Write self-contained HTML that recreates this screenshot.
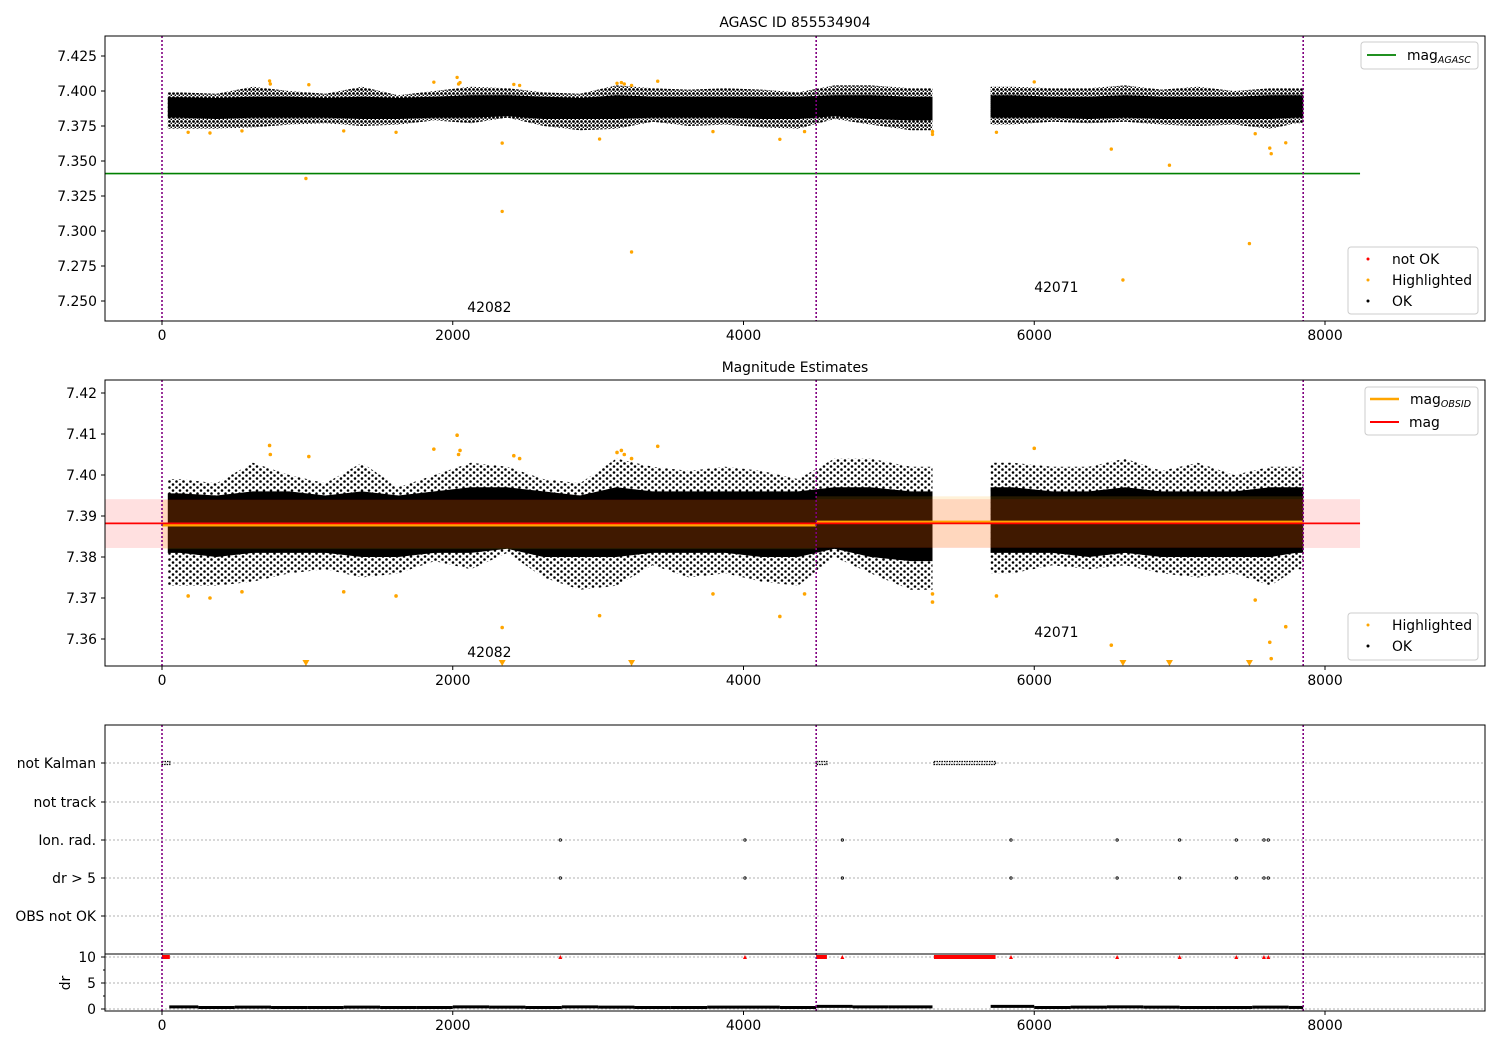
<!DOCTYPE html>
<html><head><meta charset="utf-8"><style>
body{margin:0;background:#fff}
svg text{font-family:"DejaVu Sans","Liberation Sans",sans-serif;font-size:13.9px;fill:#000}
</style></head><body>
<svg id="c" width="1500" height="1050" xmlns="http://www.w3.org/2000/svg">
<defs>
<pattern id="dots" width="7" height="6" patternUnits="userSpaceOnUse"><circle cx="1.5" cy="1.5" r="1.3" fill="#000"/><circle cx="5" cy="4.5" r="1.3" fill="#000"/></pattern>
<pattern id="dots1" width="4" height="4" patternUnits="userSpaceOnUse"><circle cx="1.5" cy="1.5" r="1.4" fill="#000"/><circle cx="3.5" cy="3.5" r="1.0" fill="#000"/></pattern>
<clipPath id="cp1"><rect x="105" y="36" width="1380" height="285"/></clipPath>
<clipPath id="cp2"><rect x="105" y="380" width="1380" height="286"/></clipPath>
</defs>
</svg>
<script>
// ---- data ----
const binStart=[0,250,500,750,1000,1250,1500,1750,2000,2250,2500,2750,3000,3250,3500,3750,4000,4250,4500,4750,5000,5700,6000,6250,6500,6750,7000,7250,7500,7750];
const binEnd  =[250,500,750,1000,1250,1500,1750,2000,2250,2500,2750,3000,3250,3500,3750,4000,4250,4500,4750,5000,5300,6000,6250,6500,6750,7000,7250,7500,7750,7850];
const magHi=[7.399,7.398,7.403,7.400,7.398,7.403,7.397,7.400,7.403,7.402,7.399,7.398,7.404,7.402,7.401,7.402,7.401,7.399,7.404,7.404,7.402,7.403,7.402,7.402,7.404,7.401,7.403,7.400,7.402,7.402];
const magLo=[7.373,7.373,7.374,7.376,7.377,7.375,7.376,7.379,7.377,7.381,7.375,7.372,7.373,7.378,7.375,7.376,7.374,7.373,7.380,7.376,7.372,7.376,7.378,7.377,7.378,7.376,7.375,7.376,7.373,7.377];
const coreHi=[7.3955,7.395,7.396,7.396,7.395,7.396,7.395,7.396,7.397,7.397,7.396,7.395,7.397,7.396,7.396,7.396,7.396,7.396,7.397,7.397,7.396,7.397,7.396,7.396,7.397,7.396,7.396,7.396,7.397,7.397];
const coreLo=[7.381,7.380,7.381,7.381,7.381,7.380,7.380,7.381,7.381,7.382,7.380,7.380,7.380,7.381,7.381,7.381,7.380,7.380,7.382,7.380,7.379,7.381,7.381,7.380,7.381,7.380,7.380,7.380,7.380,7.381];
const hlX=[180,330,550,740,745,990,1010,1250,1610,1870,2030,2040,2050,2340,2340,2420,2460,3010,3130,3160,3180,3230,3230,3410,3790,4250,4420,5300,5300,5740,6000,6530,6610,6930,7480,7520,7620,7630,7730];
const hlMag=[7.3705,7.370,7.3715,7.4072,7.405,7.3375,7.4045,7.3715,7.3705,7.4063,7.4097,7.405,7.406,7.3628,7.314,7.4047,7.404,7.3657,7.4055,7.406,7.405,7.285,7.404,7.407,7.371,7.3655,7.371,7.371,7.369,7.3705,7.4065,7.3585,7.265,7.347,7.291,7.3695,7.3592,7.3552,7.363];
const magAgasc=7.341;
const magMean=7.3882, magErrLo=7.3822, magErrHi=7.3941;
const obsStart=[0,4500], obsEnd=[4500,7850], obsMag=[7.3878,7.3885], obsLo=[7.3819,7.3823], obsHi=[7.3939,7.3948];
const obsLabels=["42082","42071"], obsLabelX=[2100,6000];
const notKalStart=[0,4500,5310], notKalEnd=[40,4560,5720];
const flagX=[2740,4010,4680,5840,6570,7000,7390,7580,7610];
const drValue=[0.4,0.3,0.35,0.3,0.3,0.35,0.3,0.3,0.4,0.35,0.3,0.4,0.35,0.3,0.3,0.35,0.35,0.3,0.5,0.4,0.4,0.5,0.3,0.35,0.4,0.35,0.3,0.3,0.35,0.3];
const xTicks=[0,2000,4000,6000,8000];
const y1Ticks=[7.250,7.275,7.300,7.325,7.350,7.375,7.400,7.425];
const y2Ticks=[7.36,7.37,7.38,7.39,7.40,7.41,7.42];
const catLabels=["not Kalman","not track","Ion. rad.","dr > 5","OBS not OK"];
const drTicks=[0,5,10];

// ---- scales ----
const X=v=>162+v*0.145375;
const Y1=v=>91-(v-7.4)*1400;
const Y2=v=>516-(v-7.39)*4100;
const catY=[763,802,840,878,916];
const YD=v=>1009-v*5.2;
const XMAX=8241;

const svg=document.getElementById('c');
const NS='http://www.w3.org/2000/svg';
function el(tag,attrs,parent){const e=document.createElementNS(NS,tag);for(const k in attrs)e.setAttribute(k,attrs[k]);(parent||svg).appendChild(e);return e;}
function txt(s,x,y,anchor,parent,size){const t=el('text',{x:x,y:y,'text-anchor':anchor||'start'},parent);if(size)t.setAttribute('font-size',size);t.textContent=s;return t;}

function runs(){const r=[];let cur=[];for(let i=0;i<binStart.length;i++){if(cur.length&&binStart[i]!==binEnd[cur[cur.length-1]]){r.push(cur);cur=[];}cur.push(i);}if(cur.length)r.push(cur);return r;}
function envPath(Y,hi,lo,idx){let top=[],bot=[];
 const first=idx[0],last=idx[idx.length-1];
 const x0=Math.max(binStart[first],40), x1=binEnd[last];
 top.push([X(x0),Y(hi[first])]);bot.push([X(x0),Y(lo[first])]);
 idx.forEach(i=>{const m=(binStart[i]+binEnd[i])/2;top.push([X(m),Y(hi[i])]);bot.push([X(m),Y(lo[i])]);});
 top.push([X(x1),Y(hi[last])]);bot.push([X(x1),Y(lo[last])]);
 return 'M'+top.concat(bot.reverse()).map(p=>p[0].toFixed(1)+','+p[1].toFixed(1)).join('L')+'Z';}

function axesFrame(y0,h,name){el('rect',{x:105,y:y0,width:1380,height:h,fill:'none',stroke:'#000','stroke-width':1});}
function xAxis(yb){const g=el('g',{});
 xTicks.forEach(t=>{el('line',{x1:X(t),x2:X(t),y1:yb,y2:yb+4,stroke:'#000'},g);txt(String(t),X(t),yb+19,'middle',g);});}
function vlines(y0,y1){[0,4500,7850].forEach(v=>{const l=el('line',{x1:X(v),x2:X(v),y1:y0,y2:y1,stroke:'#800080','stroke-width':1.6,'stroke-dasharray':'2,2'});});}

// ===== Panel 1 =====
{
const g=el('g',{'clip-path':'url(#cp1)'});
runs().forEach(r=>{const p=el('path',{d:envPath(Y1,magHi,magLo,r),fill:'url(#dots1)'},g);
 const c=el('path',{d:envPath(Y1,coreHi,coreLo,r),fill:'#000'},g);});
hlX.forEach((x,i)=>{const c=el('circle',{cx:X(x),cy:Y1(hlMag[i]),r:1.7,fill:'orange'},g);});
const gl=el('line',{x1:105,x2:X(XMAX),y1:Y1(magAgasc),y2:Y1(magAgasc),stroke:'green','stroke-width':1.6},g);
vlines(36,321);
obsLabels.forEach((s,i)=>{const t=txt(s,X(obsLabelX[i]),i==0?312:292,'start');});
axesFrame(36,285,'agasc-axes');
const ga=el('g',{});
y1Ticks.forEach(t=>{el('line',{x1:101,x2:105,y1:Y1(t),y2:Y1(t),stroke:'#000'},ga);txt(t.toFixed(3),97,Y1(t)+5,'end',ga);});
xAxis(321);
const tt=txt('AGASC ID 855534904',795,27,'middle');tt.setAttribute('font-size','16.7');
const lg=el('g',{});
el('rect',{x:1361,y:42,width:117,height:27,rx:3,fill:'#fff',stroke:'#ccc'},lg);
el('line',{x1:1367,x2:1396,y1:55,y2:55,stroke:'green','stroke-width':1.8},lg);
const t1=txt('mag',1407,60,'start',lg);const s1=el('tspan',{'font-size':'9.5','font-style':'italic',dy:'3'},t1);s1.textContent='AGASC';
const lb=el('g',{});
el('rect',{x:1348,y:247,width:130,height:67,rx:3,fill:'#fff',stroke:'#ccc'},lb);
[['red','not OK',259],['orange','Highlighted',280],['#000','OK',301]].forEach(a=>{el('circle',{cx:1368,cy:a[2],r:1.5,fill:a[0]},lb);txt(a[1],1392,a[2]+5,'start',lb);});
}

// ===== Panel 2 =====
{
const g=el('g',{'clip-path':'url(#cp2)'});
runs().forEach(r=>{const p=el('path',{d:envPath(Y2,magHi,magLo,r),fill:'url(#dots)'},g);
 const c=el('path',{d:envPath(Y2,coreHi,coreLo,r),fill:'#000'},g);});
const band=el('rect',{x:105,y:Y2(magErrHi),width:X(XMAX)-105,height:Y2(magErrLo)-Y2(magErrHi),fill:'red','fill-opacity':0.12},g);
obsStart.forEach((s,i)=>{const b=el('rect',{x:X(s),y:Y2(obsHi[i]),width:X(obsEnd[i])-X(s),height:Y2(obsLo[i])-Y2(obsHi[i]),fill:'orange','fill-opacity':0.15},g);
 const l=el('line',{x1:X(s),x2:X(obsEnd[i]),y1:Y2(obsMag[i]),y2:Y2(obsMag[i]),stroke:'orange','stroke-width':3},g);});
const ml=el('line',{x1:105,x2:X(XMAX),y1:Y2(magMean),y2:Y2(magMean),stroke:'red','stroke-width':1.8},g);
const ymin=7.3534;
hlX.forEach((x,i)=>{if(hlMag[i]>=ymin){const c=el('circle',{cx:X(x),cy:Y2(hlMag[i]),r:1.8,fill:'orange'},g);}
 else{const cx=X(x),cy=663;const t=el('path',{d:`M${cx-3.5},${cy-3}L${cx+3.5},${cy-3}L${cx},${cy+3}Z`,fill:'orange'},g);}});
vlines(380,666);
obsLabels.forEach((s,i)=>{const t=txt(s,X(obsLabelX[i]),i==0?657:637,'start');});
axesFrame(380,286,'estimates-axes');
const ga=el('g',{});
y2Ticks.forEach(t=>{el('line',{x1:101,x2:105,y1:Y2(t),y2:Y2(t),stroke:'#000'},ga);txt(t.toFixed(2),97,Y2(t)+5,'end',ga);});
xAxis(666);
const tt=txt('Magnitude Estimates',795,372,'middle');tt.setAttribute('font-size','16.7');
const lg=el('g',{});
el('rect',{x:1365,y:387,width:113,height:48,rx:3,fill:'#fff',stroke:'#ccc'},lg);
el('line',{x1:1370,x2:1399,y1:399,y2:399,stroke:'orange','stroke-width':2.5},lg);
const t1=txt('mag',1410,404,'start',lg);const s1=el('tspan',{'font-size':'9.5','font-style':'italic',dy:'3'},t1);s1.textContent='OBSID';
el('line',{x1:1370,x2:1399,y1:422,y2:422,stroke:'red','stroke-width':2},lg);txt('mag',1409,427,'start',lg);
const lb=el('g',{});
el('rect',{x:1348,y:613,width:130,height:47,rx:3,fill:'#fff',stroke:'#ccc'},lb);
[['orange','Highlighted',625],['#000','OK',646]].forEach(a=>{el('circle',{cx:1368,cy:a[2],r:1.5,fill:a[0]},lb);txt(a[1],1392,a[2]+5,'start',lb);});
}

// ===== Panel 3 =====
{
const ga=el('g',{});
catLabels.forEach((s,i)=>{el('line',{x1:105,x2:1485,y1:catY[i],y2:catY[i],stroke:'#b0b0b0','stroke-dasharray':'2,2'},ga);el('line',{x1:101,x2:105,y1:catY[i],y2:catY[i],stroke:'#000'},ga);txt(s,96,catY[i]+5,'end',ga);});
drTicks.forEach(t=>{el('line',{x1:105,x2:1485,y1:YD(t),y2:YD(t),stroke:'#b0b0b0','stroke-dasharray':'2,2'},ga);el('line',{x1:101,x2:105,y1:YD(t),y2:YD(t),stroke:'#000'},ga);txt(String(t),96,YD(t)+5,'end',ga);});
[2.5,7.5].forEach(t=>el('line',{x1:103,x2:105,y1:YD(t),y2:YD(t),stroke:'#000'},ga));
const dl=txt('dr',70,983,'middle',ga);dl.setAttribute('transform','rotate(-90 70 983)');
notKalStart.forEach((s,i)=>{const r=el('rect',{x:X(s),y:catY[0]-1.5,width:X(notKalEnd[i])-X(s)+2,height:3,fill:'none',stroke:'#000','stroke-width':1.2,'stroke-dasharray':'1.5,1'});
 const d=el('rect',{x:X(s),y:YD(10)-2,width:X(notKalEnd[i])-X(s)+2,height:4,fill:'red'});});
flagX.forEach(x=>{[2,3].forEach(k=>{const c=el('circle',{cx:X(x),cy:catY[k],r:1.2,fill:'none',stroke:'#000','stroke-width':0.8});});
 const t=el('path',{d:`M${X(x)-2},${YD(10)+2}L${X(x)+2},${YD(10)+2}L${X(x)},${YD(10)-2}Z`,fill:'red'});});
binStart.forEach((s,i)=>{const st=Math.max(s,50);const l=el('line',{x1:X(st),x2:X(binEnd[i]),y1:YD(drValue[i]),y2:YD(drValue[i]),stroke:'#000','stroke-width':3});});
vlines(725,1011);
el('line',{x1:105,x2:1485,y1:954,y2:954,stroke:'#000'});
axesFrame(725,286,'flags-axes');
xAxis(1011);
}
</script>
</body></html>
